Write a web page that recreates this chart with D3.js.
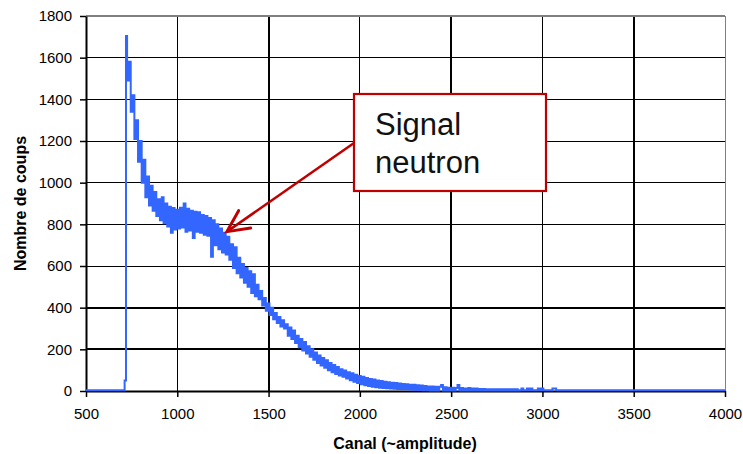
<!DOCTYPE html>
<html>
<head>
<meta charset="utf-8">
<script src="https://cdn.jsdelivr.net/npm/d3@7"></script>
<style>
  body { margin: 0; background: #fff; }
  svg { display: block; }
  text { font-family: "Liberation Sans", Arial, sans-serif; }
</style>
</head>
<body>
<svg id="chart" width="743" height="454"></svg>
<script>
// ---------------- data ----------------
const xTicks = [500, 1000, 1500, 2000, 2500, 3000, 3500, 4000];
const yTicks = [0, 200, 400, 600, 800, 1000, 1200, 1400, 1600, 1800];

// flat part and rising edge before the peak: channel / counts
const leadChannels = [500, 711, 712, 718];
const leadCounts   = [4, 4, 50, 50];

// noisy spectrum: one value every 10 channels from channel 720 to 3100
const bandFirstChannel = 720;
const bandChannelStep = 10;
const bandCounts = [
  1704,1490,1580,1340,1420,1210,1300,1100,1200,1000,
  1110,930,1030,890,985,865,955,840,920,820,
  930,805,900,790,885,760,878,775,870,780,
  880,785,900,765,875,770,865,735,860,765,
  858,760,845,750,840,745,830,645,820,700,
  800,680,780,665,760,655,740,630,705,590,
  690,565,640,545,610,520,590,500,575,470,
  560,455,510,440,480,410,446,385,420,365,
  400,345,375,326,355,310,340,300,320,265,
  305,250,290,230,265,210,250,195,235,180,
  215,165,200,150,185,135,170,122,158,112,
  148,100,135,90,125,82,115,75,105,68,
  98,60,90,52,85,45,78,38,72,32,
  68,28,62,24,58,20,55,18,50,16,
  48,14,44,13,42,12,40,11,38,10,
  36,9,34,8,32,7,30,6,30,5,
  28,5,26,4,24,4,22,3,22,3,
  20,3,20,29,3,18,2,16,2,16,
  2,14,29,2,14,2,12,2,14,2,
  12,2,12,2,10,2,10,2,9,2,
  9,2,8,2,9,2,8,2,8,2,
  9,2,8,2,8,2,4,12,4,4,
  12,4,12,4,4,4,12,4,12,4,
  4,4,4,4,12,12,4,4,4
];

// flat tail
const tailChannels = [3110, 4000];
const tailCounts   = [4, 4];

const xTitle = "Canal (~amplitude)";
const yTitle = "Nombre de coups";
const calloutLines = ["Signal", "neutron"];
const calloutTarget = { channel: 1272, counts: 765 };

// ---------------- layout ----------------
const W = 743, H = 454;
const plot = { left: 86, right: 725, top: 16, bottom: 391 };
const seriesColor = "#3366ff";
const calloutColor = "#c00000";

const svg = d3.select("#chart");
svg.append("rect").attr("width", W).attr("height", H).attr("fill", "#fff");

const x = d3.scaleLinear().domain([500, 4000]).range([plot.left, plot.right]);
const y = d3.scaleLinear().domain([0, 1800]).range([plot.bottom, plot.top]);

// gridlines
const thickY = new Set([200, 400]);
const thickX = new Set([1500, 2500, 3500]);
const grid = svg.append("g").attr("shape-rendering", "crispEdges");
grid.selectAll("line.h")
  .data(yTicks.filter(v => v > 0 && v < 1800))
  .join("line")
  .attr("x1", plot.left).attr("x2", plot.right)
  .attr("y1", d => y(d)).attr("y2", d => y(d))
  .attr("stroke", "#000")
  .attr("stroke-width", d => thickY.has(d) ? 2 : 1);
grid.selectAll("line.v")
  .data(xTicks.filter(v => v > 500 && v < 4000))
  .join("line")
  .attr("y1", plot.top).attr("y2", plot.bottom)
  .attr("x1", d => x(d)).attr("x2", d => x(d))
  .attr("stroke", "#000")
  .attr("stroke-width", d => thickX.has(d) ? 2 : 1);
// top and right borders (grey)
grid.append("line")
  .attr("x1", plot.left).attr("x2", plot.right)
  .attr("y1", y(1800)).attr("y2", y(1800))
  .attr("stroke", "#808080").attr("stroke-width", 2);
grid.append("line")
  .attr("x1", plot.right).attr("x2", plot.right)
  .attr("y1", plot.top).attr("y2", plot.bottom)
  .attr("stroke", "#808080").attr("stroke-width", 1);

// axes
const yAxis = d3.axisLeft(y).tickValues(yTicks).tickSize(6).tickSizeOuter(0).tickPadding(8).tickFormat(d3.format("d"));
const xAxis = d3.axisBottom(x).tickValues(xTicks).tickSize(6).tickSizeOuter(0).tickPadding(11).tickFormat(d3.format("d"));

const gy = svg.append("g").attr("transform", `translate(${plot.left},0)`).call(yAxis);
const gx = svg.append("g").attr("transform", `translate(0,${plot.bottom})`).call(xAxis);
[gx, gy].forEach(g => {
  g.select(".domain").attr("stroke", "#000").attr("stroke-width", 2);
  g.selectAll(".tick line").attr("stroke", "#000").attr("stroke-width", 1.5);
  g.selectAll(".tick text")
    .attr("fill", "#000")
    .style("font-size", "15px")
    .style("font-family", '"Liberation Sans", Arial, sans-serif');
});

// series
const points = [];
leadChannels.forEach((c, i) => points.push([c, leadCounts[i]]));
bandCounts.forEach((v, i) => points.push([bandFirstChannel + i * bandChannelStep, v]));
tailChannels.forEach((c, i) => points.push([c, tailCounts[i]]));

const line = d3.line().curve(d3.curveStep).x(d => x(d[0])).y(d => y(d[1]));
svg.append("path")
  .datum(points)
  .attr("d", line)
  .attr("fill", "none")
  .attr("stroke", seriesColor)
  .attr("stroke-width", 2)
  .attr("stroke-linejoin", "miter");

// axis titles
svg.append("text")
  .attr("x", 405).attr("y", 449)
  .attr("text-anchor", "middle")
  .style("font-size", "16px").style("font-weight", "bold")
  .text(xTitle);
svg.append("text")
  .attr("transform", "translate(26,203.5) rotate(-90)")
  .attr("text-anchor", "middle")
  .style("font-size", "16px").style("font-weight", "bold")
  .text(yTitle);

// callout box + arrow
const box = { x: 354, y: 94, w: 192, h: 97 };
const start = [box.x, 143];
const tip = [x(calloutTarget.channel), y(calloutTarget.counts)];
svg.append("line")
  .attr("x1", start[0]).attr("y1", start[1])
  .attr("x2", tip[0]).attr("y2", tip[1])
  .attr("stroke", calloutColor).attr("stroke-width", 2.5);
const ang = Math.atan2(start[1] - tip[1], start[0] - tip[0]);
const armLen = 24, spread = 26 * Math.PI / 180;
const a1 = [tip[0] + armLen * Math.cos(ang - spread), tip[1] + armLen * Math.sin(ang - spread)];
const a2 = [tip[0] + armLen * Math.cos(ang + spread), tip[1] + armLen * Math.sin(ang + spread)];
svg.append("path")
  .attr("d", `M${a1[0]},${a1[1]}L${tip[0]},${tip[1]}L${a2[0]},${a2[1]}`)
  .attr("fill", "none")
  .attr("stroke", calloutColor).attr("stroke-width", 3)
  .attr("stroke-linejoin", "miter").attr("stroke-linecap", "round");

svg.append("rect")
  .attr("x", box.x).attr("y", box.y).attr("width", box.w).attr("height", box.h)
  .attr("fill", "#fff").attr("stroke", calloutColor).attr("stroke-width", 2.2);
svg.append("g").selectAll("text")
  .data(calloutLines)
  .join("text")
  .attr("x", 375)
  .attr("y", (d, i) => 135 + i * 38)
  .attr("fill", "#111")
  .style("font-size", "31px")
  .text(d => d);
</script>
</body>
</html>
